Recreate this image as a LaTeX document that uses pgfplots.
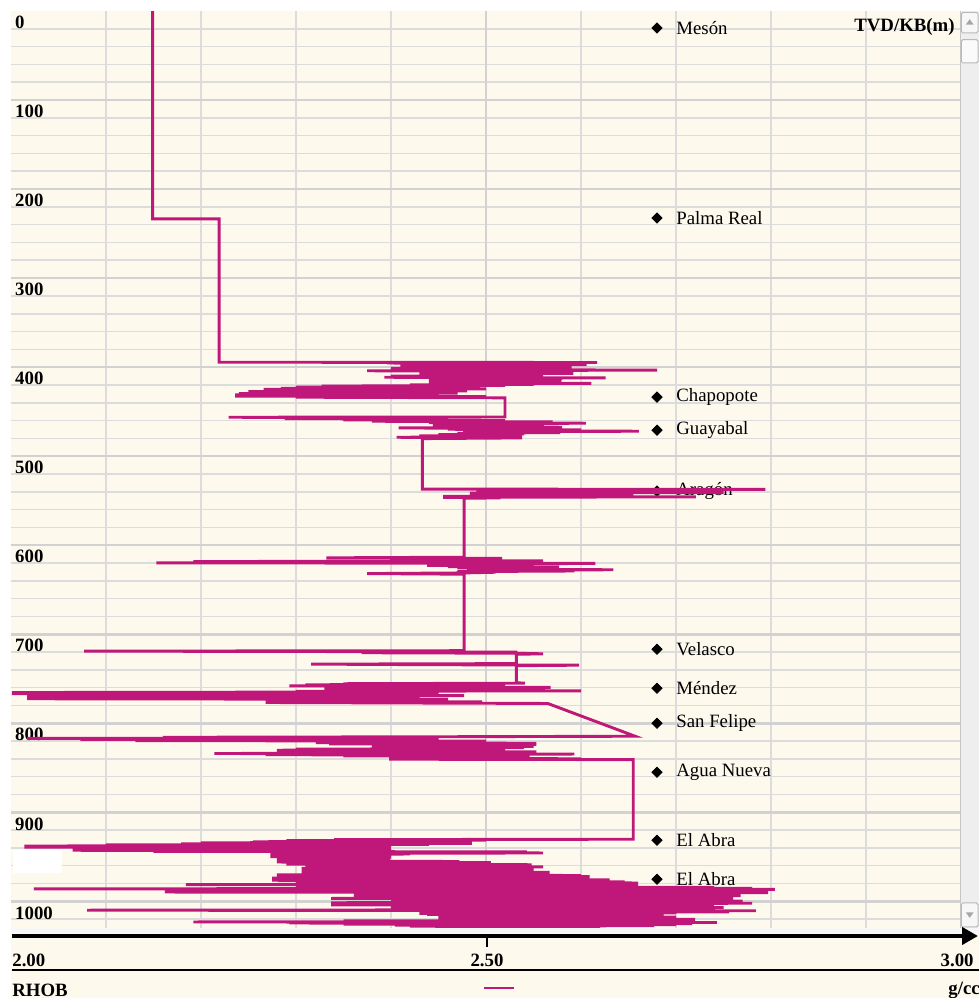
\documentclass[border=0pt]{standalone}
\usepackage{pgfplots}
\pgfplotsset{compat=1.18}
\usepackage{fontspec}
\setmainfont{Liberation Serif}
\usetikzlibrary{arrows.meta,calc}

\definecolor{paper}{RGB}{254,249,237}
\definecolor{gridminor}{RGB}{220,220,220}
\definecolor{gridmajor}{RGB}{210,210,210}
\definecolor{rhob}{RGB}{192,24,122}
\definecolor{scroll}{RGB}{238,238,238}
\newcommand\lbl{\fontsize{9.4pt}{11pt}\selectfont}

% RHOB density log: value (g/cc) versus depth TVD/KB (m)
\pgfplotstableread{
v d
2.149 0
2.149 233.5
2.219 233.5
2.219 394.5
2.617 394.8
2.396 395.4
2.569 396.0
2.42 396.6
2.606 397.2
2.44 397.8
2.55 398.4
2.41 399.0
2.59 399.6
2.46 400.2
2.52 400.8
2.40 401.4
2.57 402.0
2.45 402.6
2.680 403.4
2.375 404.1
2.54 404.7
2.43 405.3
2.573 405.9
2.44 406.5
2.592 407.1
2.43 407.7
2.55 408.3
2.45 408.9
2.56 409.5
2.40 410.1
2.53 410.7
2.393 411.4
2.626 412.1
2.44 412.7
2.58 413.3
2.46 413.9
2.561 414.5
2.45 415.1
2.579 415.7
2.44 416.3
2.53 416.9
2.46 417.5
2.611 418.2
2.47 418.8
2.55 419.4
2.42 420.0
2.52 420.6
2.327 421.3
2.49 421.9
2.30 422.5
2.463 423.1
2.284 423.8
2.50 424.4
2.266 425.0
2.45 425.6
2.32 426.2
2.48 426.8
2.25 427.4
2.43 428.0
2.28 428.6
2.47 429.2
2.24 429.8
2.40 430.4
2.236 431.2
2.45 431.8
2.236 432.5
2.50 433.2
2.30 433.8
2.520 434.5
2.520 456.0
2.229 456.3
2.40 457.0
2.288 457.8
2.46 458.5
2.350 459.3
2.52 460.0
2.38 460.8
2.570 461.5
2.44 462.3
2.605 463.0
2.46 463.8
2.56 464.5
2.444 465.3
2.561 466.0
2.47 466.8
2.580 467.5
2.408 468.3
2.55 469.0
2.46 469.8
2.60 470.5
2.476 471.3
2.661 472.0
2.48 472.8
2.578 473.5
2.47 474.3
2.54 475.0
2.45 475.8
2.522 476.5
2.43 477.3
2.538 478.0
2.406 478.8
2.538 479.5
2.433 480.3
2.433 537.0
2.794 537.3
2.49 537.9
2.72 538.5
2.50 539.1
2.68 539.7
2.52 540.3
2.75 540.9
2.483 541.5
2.64 542.1
2.50 542.7
2.655 543.3
2.49 543.9
2.60 544.5
2.455 545.1
2.721 545.7
2.455 546.3
2.515 546.9
2.477 547.3
2.477 613.5
2.332 614.2
2.517 614.9
2.40 615.6
2.50 616.3
2.43 617.0
2.56 617.7
2.192 618.4
2.45 619.1
2.153 619.8
2.615 620.5
2.46 621.2
2.55 621.9
2.438 622.6
2.537 623.3
2.46 624.0
2.577 624.7
2.47 625.4
2.52 626.1
2.48 626.8
2.634 627.6
2.49 628.3
2.593 629.0
2.47 629.7
2.51 630.4
2.48 631.1
2.375 631.9
2.477 632.6
2.477 718.5
2.077 719.0
2.40 719.6
2.533 720.2
2.369 720.8
2.533 721.4
2.560 722.0
2.532 722.6
2.532 733.0
2.316 733.6
2.431 734.2
2.598 734.8
2.532 735.4
2.532 754.5
2.541 755.0
2.35 755.6
2.48 756.2
2.31 756.8
2.52 757.4
2.293 758.0
2.474 758.6
2.36 759.2
2.568 759.8
2.38 760.4
2.55 761.0
2.33 761.6
2.50 762.2
2.40 762.8
2.600 763.6
2.30 764.2
2.45 764.8
2.001 765.5
2.45 766.2
2.001 766.9
2.40 767.6
2.017 768.3
2.477 769.0
2.017 769.7
2.43 770.4
2.017 771.1
2.38 771.8
2.017 772.5
2.46 773.2
2.268 773.9
2.40 774.6
2.268 775.3
2.496 776.0
2.268 776.7
2.428 777.3
2.565 777.8
2.657 814.6
2.44 815.2
2.160 815.8
2.45 816.4
2.017 817.0
2.40 817.6
2.073 818.2
2.45 818.8
2.131 819.5
2.50 820.1
2.388 820.7
2.489 821.3
2.321 821.9
2.553 822.5
2.335 823.1
2.553 823.7
2.41 824.3
2.52 824.9
2.43 825.5
2.55 826.1
2.38 826.7
2.54 827.3
2.40 827.9
2.51 828.5
2.30 829.1
2.48 829.7
2.28 830.3
2.52 830.9
2.33 831.5
2.553 832.1
2.30 832.7
2.50 833.3
2.214 834.0
2.593 834.6
2.268 835.3
2.498 836.0
2.35 836.6
2.546 837.3
2.399 838.0
2.546 838.6
2.398 839.3
2.60 839.9
2.398 840.4
2.655 840.9
2.655 930.3
2.340 930.7
2.50 931.3
2.290 931.9
2.47 932.5
2.255 933.1
2.457 933.7
2.20 934.3
2.485 934.9
2.179 935.5
2.44 936.1
2.10 936.7
2.40 937.3
2.014 937.9
2.35 938.5
2.014 939.1
2.384 939.7
2.065 940.3
2.40 940.9
2.065 941.5
2.36 942.1
2.065 942.7
2.40 943.3
2.15 943.9
2.543 944.5
2.28 945.1
2.56 945.7
2.33 946.3
2.42 946.9
2.273 947.5
2.399 948.1
2.30 948.7
2.384 949.3
2.273 949.9
2.40 950.5
2.312 951.1
2.399 951.7
2.28 952.3
2.37 952.9
2.28 953.5
2.389 954.1
2.30 954.7
2.472 955.3
2.28 955.9
2.505 956.5
2.31 957.1
2.45 957.7
2.29 958.3
2.548 958.9
2.33 959.5
2.50 960.1
2.31 960.7
2.56 961.3
2.35 961.9
2.53 962.5
2.306 963.1
2.548 963.7
2.40 964.3
2.55 964.9
2.33 965.5
2.548 966.1
2.306 966.7
2.567 967.4
2.36 968.0
2.53 968.6
2.306 969.2
2.567 969.8
2.280 970.4
2.60 971.0
2.36 971.6
2.609 972.2
2.30 972.8
2.58 973.4
2.275 974.0
2.609 974.6
2.40 975.2
2.63 975.8
2.275 976.4
2.60 977.0
2.40 977.6
2.646 978.2
2.30 978.8
2.66 979.4
2.38 980.0
2.64 980.6
2.184 981.2
2.66 981.8
2.42 982.4
2.65 983.0
2.35 983.6
2.74 984.4
2.30 984.8
2.78 985.4
2.024 986.0
2.804 986.6
2.43 987.2
2.75 987.8
2.40 988.4
2.76 989.0
2.162 989.6
2.797 990.2
2.45 990.8
2.73 991.4
2.40 992.0
2.768 992.6
2.361 993.2
2.768 993.8
2.48 994.4
2.70 995.0
2.485 995.6
2.76 996.2
2.337 996.8
2.752 997.4
2.43 998.0
2.72 998.6
2.40 999.2
2.77 999.8
2.46 1000.4
2.69 1001.0
2.337 1001.6
2.78 1002.2
2.45 1002.8
2.70 1003.4
2.337 1004.0
2.74 1004.6
2.45 1005.2
2.70 1005.8
2.40 1006.4
2.75 1007.0
2.48 1007.6
2.69 1008.2
2.45 1008.8
2.72 1009.4
2.080 1010.0
2.784 1010.6
2.45 1011.2
2.756 1011.8
2.438 1012.4
2.70 1013.0
2.43 1013.6
2.598 1014.2
2.438 1014.8
2.67 1015.4
2.45 1016.0
2.687 1016.6
2.47 1017.2
2.70 1017.8
2.45 1018.4
2.687 1019.0
2.48 1019.6
2.720 1020.2
2.46 1020.8
2.70 1021.4
2.35 1022.0
2.72 1022.6
2.192 1023.2
2.743 1023.8
2.293 1024.4
2.717 1025.0
2.35 1025.6
2.70 1026.2
2.404 1026.8
2.677 1027.4
2.42 1028.0
2.62 1028.6
2.45 1029.2
2.60 1029.8
2.50 1030.4
}\rhobdata

% formation tops: marker value, depth
\pgfplotstableread{
v d
2.68 19.1
2.68 232.6
2.68 433.7
2.68 470.8
2.68 539.3
2.68 716.9
2.68 760.7
2.68 800.0
2.68 855.0
2.68 931.5
2.68 975.3
}\tops

\begin{document}
\begin{tikzpicture}
\begin{axis}[
  scale only axis, width=475pt, height=458.5pt,
  xmin=2, xmax=3, ymin=0, ymax=1030, y dir=reverse,
  axis line style={draw=none},
  axis background/.style={fill=paper},
  xtick={2.1,2.2,2.3,2.4,2.5,2.6,2.7,2.8,2.9},
  ytick={100,200,300,400,500,600,700,800,900,1000},
  minor ytick={20,40,60,80,120,140,160,180,220,240,260,280,320,340,360,380,
    420,440,460,480,520,540,560,580,620,640,660,680,720,740,760,780,
    820,840,860,880,920,940,960,980,1020},
  xticklabels={}, yticklabels={},
  major tick length=0pt, minor tick length=0pt,
  grid=both,
  major grid style={draw=gridminor, line width=0.8pt},
  minor grid style={draw=gridminor, line width=0.8pt},
  clip mode=individual,
]
% heavier lines every 100 m and at 2.50 g/cc
\pgfplotsinvokeforeach{100,200,300,400,500,600,700,800,900,1000}{
  \draw[gridmajor, line width=1.3pt] (axis cs:2,#1) -- (axis cs:3,#1);
}
\draw[gridmajor, line width=1.3pt] (axis cs:2.5,0) -- (axis cs:2.5,1030);

% depth labels
\pgfplotsinvokeforeach{0,100,200,300,400,500,600,700,800,900,1000}{
  \node[anchor=west, inner sep=0pt, font=\lbl\bfseries] at (axis cs:2.004,#1+13) {#1};
}

\fill[white] (axis cs:2.002,942.7) rectangle (axis cs:2.054,968.5);

% formation tops
\addplot[only marks, mark=square*, mark size=1.8pt, mark options={rotate=45, fill=black, draw=black}]
  table[x=v, y=d] {\tops};
\node[anchor=west, inner sep=0pt, font=\lbl] at (axis cs:2.700,19.1) {Mesón};
\node[anchor=west, inner sep=0pt, font=\lbl] at (axis cs:2.700,232.6) {Palma Real};
\node[anchor=west, inner sep=0pt, font=\lbl] at (axis cs:2.700,433.7) {Chapopote};
\node[anchor=west, inner sep=0pt, font=\lbl] at (axis cs:2.700,470.8) {Guayabal};
\node[anchor=west, inner sep=0pt, font=\lbl] at (axis cs:2.700,539.3) {Aragón};
\node[anchor=west, inner sep=0pt, font=\lbl] at (axis cs:2.700,716.9) {Velasco};
\node[anchor=west, inner sep=0pt, font=\lbl] at (axis cs:2.700,760.7) {Méndez};
\node[anchor=west, inner sep=0pt, font=\lbl] at (axis cs:2.700,800.0) {San Felipe};
\node[anchor=west, inner sep=0pt, font=\lbl] at (axis cs:2.700,855.0) {Agua Nueva};
\node[anchor=west, inner sep=0pt, font=\lbl] at (axis cs:2.700,931.5) {El Abra};
\node[anchor=west, inner sep=0pt, font=\lbl] at (axis cs:2.700,975.3) {El Abra};

% density curve
\addplot[rhob, line width=1.45pt] table[x=v, y=d] {\rhobdata};

\coordinate (TL) at (axis cs:2,0);
\end{axis}

\pgfresetboundingbox
\begin{scope}[shift={($(TL)+(-5.5pt,5.5pt)$)}, x=1pt, y=1pt]
\path[use as bounding box] (0,0) rectangle (489.5,-499);
% surrounding panel
\fill[white] (0,0) rectangle (489.5,-5.5);
\fill[white] (0,-5.5) rectangle (5.5,-499);
\fill[paper] (5.5,-464) rectangle (489.5,-499);

\node[anchor=east, inner sep=0pt, font=\lbl\bfseries] at (477.5,-13.5) {TVD/KB(m)};

% scroll bar
\fill[scroll] (480,-5.5) rectangle (489.5,-464);
\draw[gray!45, line width=0.5pt] (480,-5.5) -- (480,-464);
\draw[gray!55, fill=gray!6, rounded corners=0.8pt, line width=0.5pt] (480.7,-6.2) rectangle (489,-16.5);
\fill[gray!70] (484.85,-9.6) -- (482.9,-12.3) -- (486.8,-12.3) -- cycle;
\draw[gray!55, fill=gray!4, rounded corners=0.8pt, line width=0.5pt] (480.7,-19.8) rectangle (489,-31.5);
\draw[gray!55, fill=gray!6, rounded corners=0.8pt, line width=0.5pt] (480.7,-451.5) rectangle (489,-463.5);
\fill[gray!70] (484.85,-458.9) -- (482.9,-456.2) -- (486.8,-456.2) -- cycle;

% value axis
\fill[gray!6] (5.5,-464) rectangle (489.5,-466.5);
\draw[line width=2pt, -{Triangle[length=8pt, width=8.5pt]}] (6,-468) -- (489,-468);
\draw[line width=0.7pt] (243.5,-468) -- (243.5,-473.5);
\node[anchor=west, inner sep=0pt, font=\lbl\bfseries] at (6,-480) {2.00};
\node[inner sep=0pt, font=\lbl\bfseries] at (243.5,-480) {2.50};
\node[anchor=east, inner sep=0pt, font=\lbl\bfseries] at (487,-480) {3.00};
\draw[line width=0.6pt] (6,-485) -- (489.5,-485);
\node[anchor=west, inner sep=0pt, font=\lbl\bfseries] at (6,-495) {RHOB};
\draw[rhob, line width=1.4pt] (242,-494) -- (257,-494);
\node[anchor=west, inner sep=0pt, font=\lbl\bfseries] at (474,-495) {g/cc};
\end{scope}
\end{tikzpicture}
\end{document}
